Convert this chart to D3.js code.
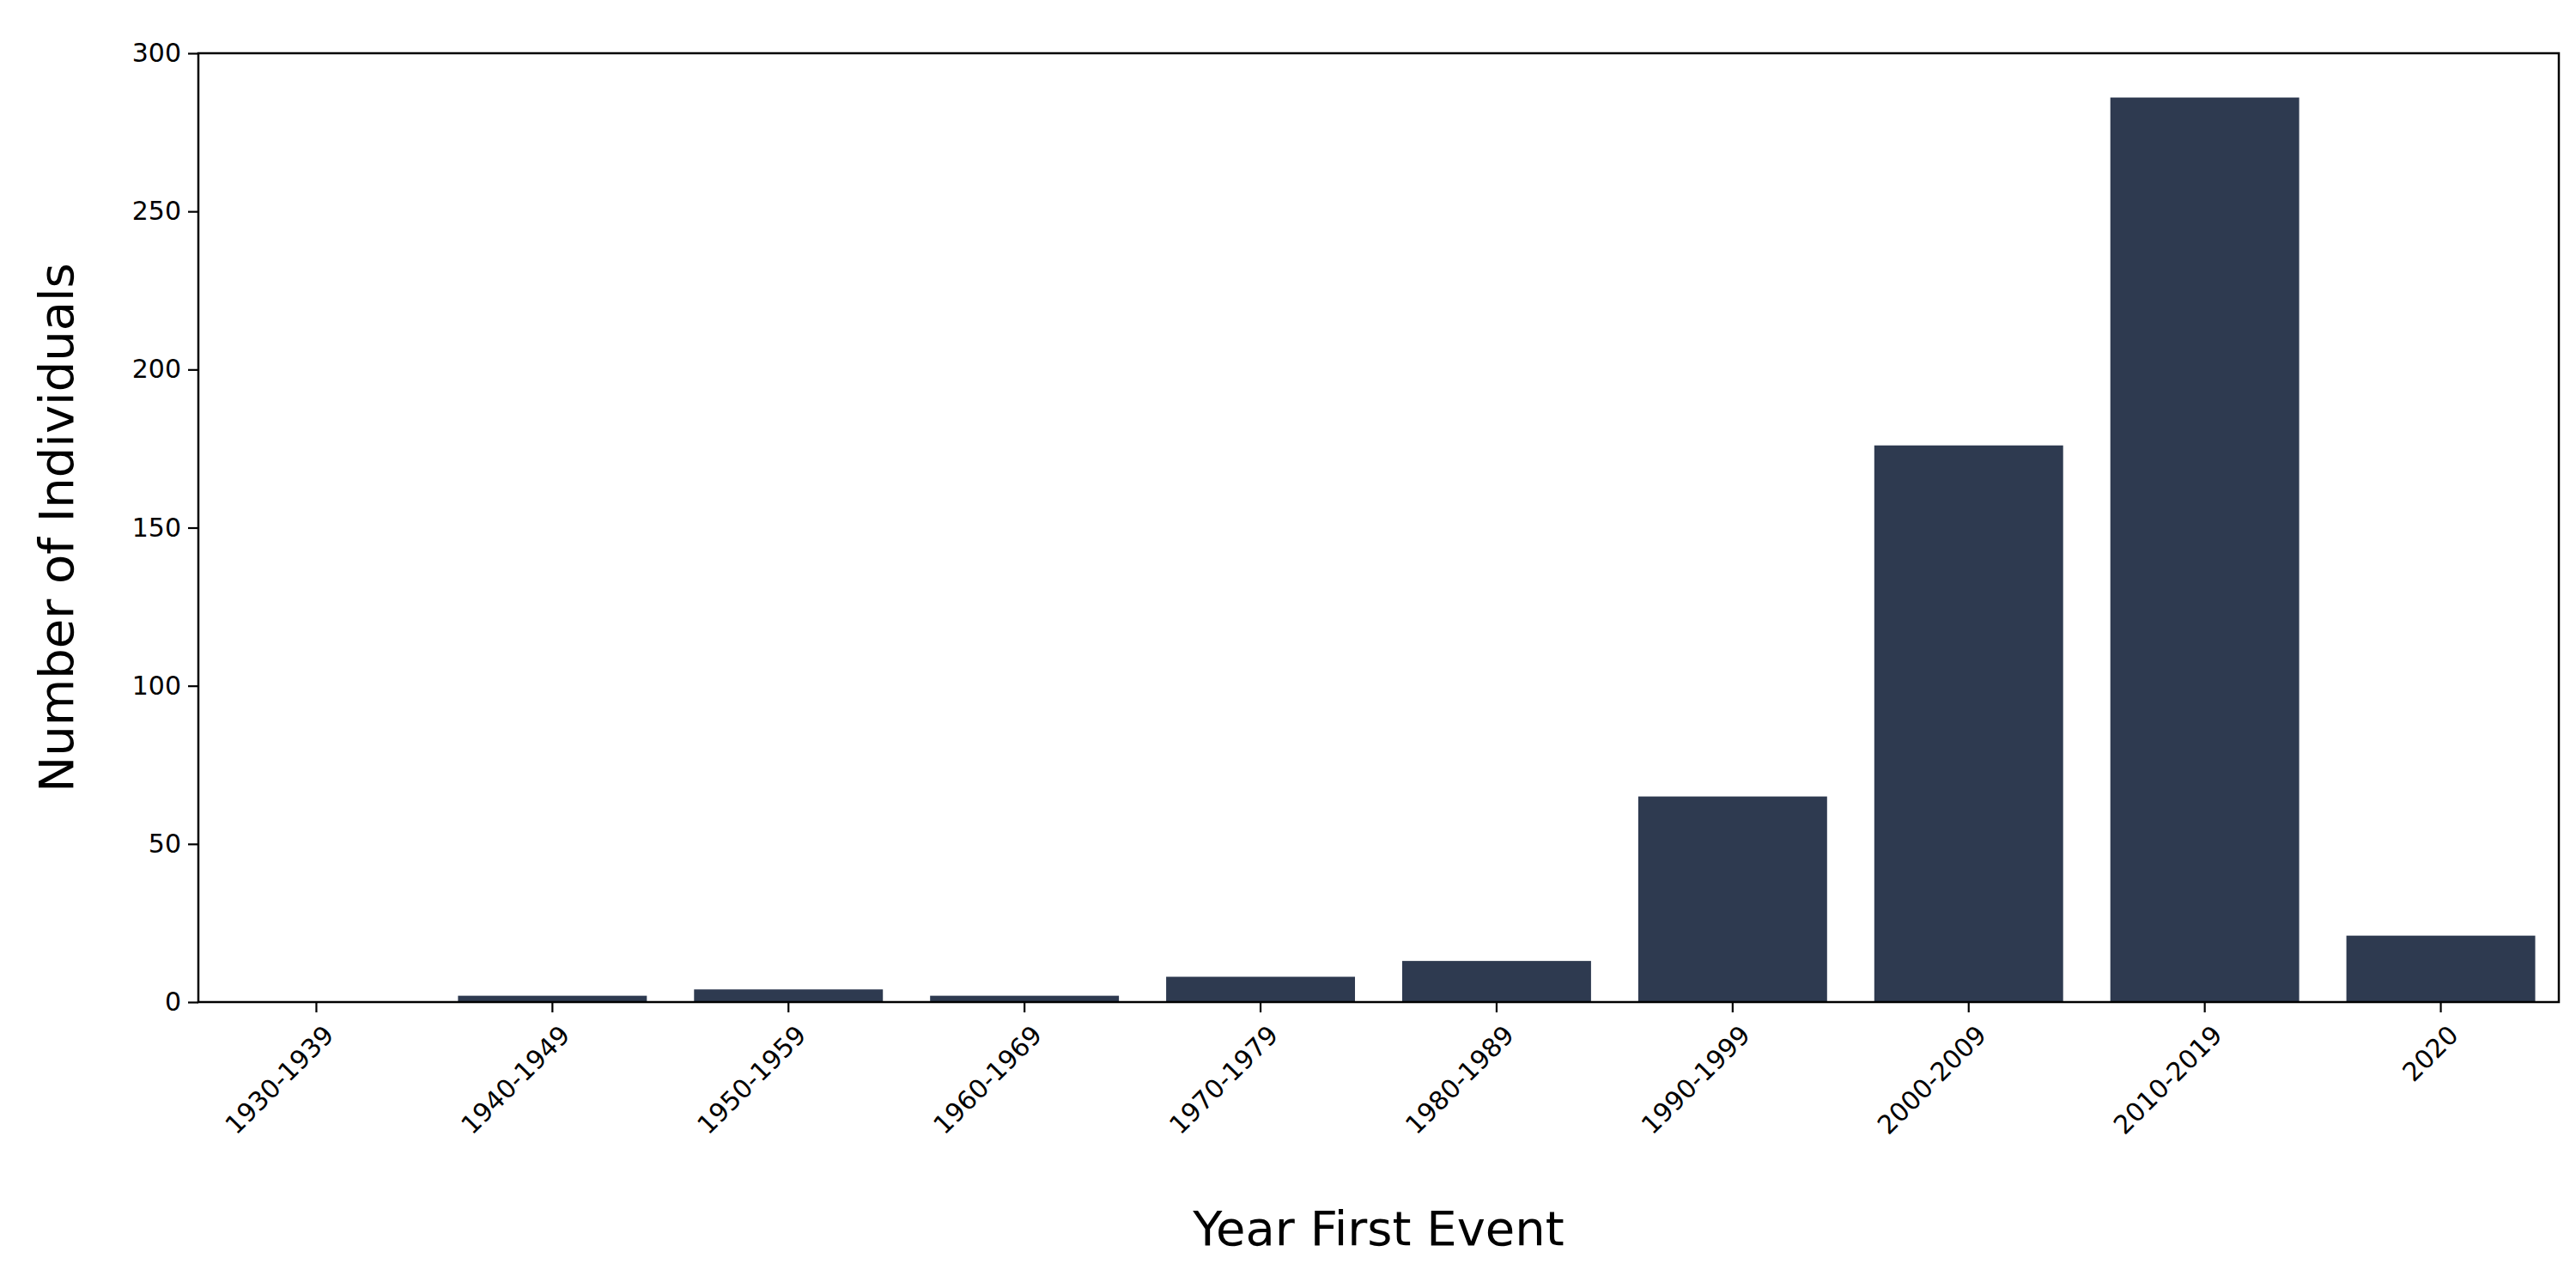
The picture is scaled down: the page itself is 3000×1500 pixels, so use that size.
<!DOCTYPE html>
<html><head><meta charset="utf-8">
<script src="https://cdn.jsdelivr.net/npm/d3@7"></script>
<style>body{margin:0;background:#fff}</style></head>
<body><svg id="c" width="3000" height="1500"></svg>
<script>
const categories = ["1930-1939","1940-1949","1950-1959","1960-1969","1970-1979","1980-1989","1990-1999","2000-2009","2010-2019","2020"];
const values = [0,2,4,2,8,13,65,176,286,21];
const yTicks = [0,50,100,150,200,250,300];

const m = {l:231, r:2980, t:62, b:1167};
const svg = d3.select("#c");
const font = "DejaVu Sans, sans-serif";
const x = d3.scaleBand().domain(categories).range([m.l, m.r]).paddingInner(0.2).paddingOuter(0.1);
const y = d3.scaleLinear().domain([0,300]).range([m.b, m.t]);

svg.append("g").selectAll("rect").data(values).join("rect")
  .attr("x",(d,i)=>x(categories[i])).attr("width",x.bandwidth())
  .attr("y",d=>y(d)).attr("height",d=>y(0)-y(d)).attr("fill","#2e3a50");

svg.append("rect").attr("x",m.l).attr("y",m.t).attr("width",m.r-m.l).attr("height",m.b-m.t)
  .attr("fill","none").attr("stroke","#000").attr("stroke-width",2.5);

const xa = svg.append("g").attr("transform",`translate(0,${m.b})`).call(d3.axisBottom(x).tickSize(12).tickPadding(8));
xa.select(".domain").remove();
xa.selectAll("line").attr("stroke-width",2.2);
xa.selectAll("text").attr("font-family",font).attr("font-size",30).attr("fill","#000")
  .attr("text-anchor","end").attr("dx","0").attr("dy","0")
  .attr("transform","translate(8,26) rotate(-45)");

const ya = svg.append("g").attr("transform",`translate(${m.l},0)`).call(d3.axisLeft(y).tickValues(yTicks).tickSize(12).tickPadding(8));
ya.select(".domain").remove();
ya.selectAll("line").attr("stroke-width",2.2);
ya.selectAll("text").attr("font-family",font).attr("font-size",30).attr("fill","#000");

svg.append("text").attr("x",(m.l+m.r)/2).attr("y",1450).attr("text-anchor","middle")
  .attr("font-family",font).attr("font-size",56).text("Year First Event");
svg.append("text").attr("transform",`translate(85,${(m.t+m.b)/2}) rotate(-90)`).attr("text-anchor","middle")
  .attr("font-family",font).attr("font-size",56).text("Number of Individuals");
</script></body></html>
